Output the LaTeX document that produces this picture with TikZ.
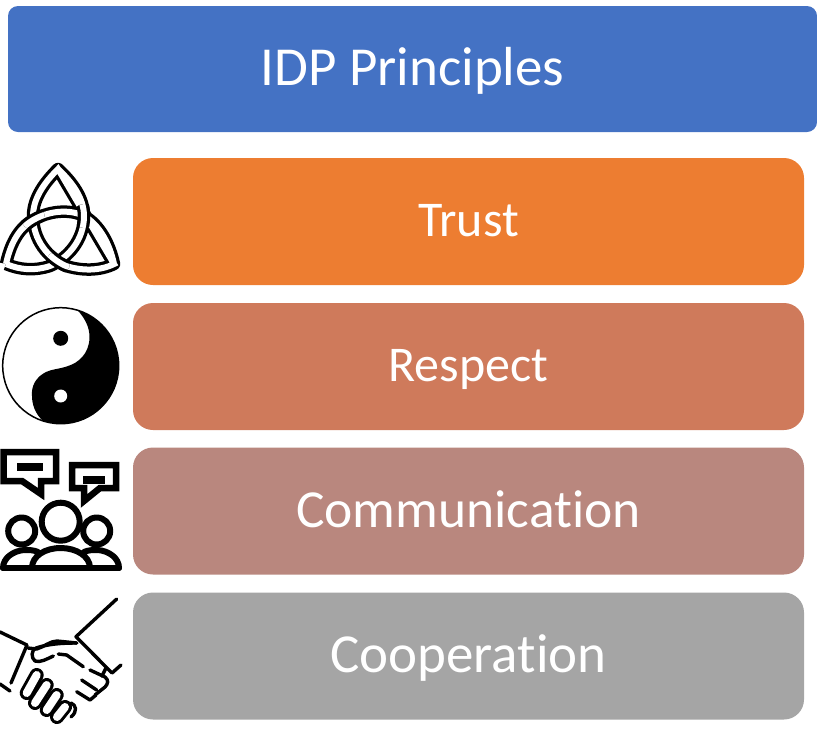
\documentclass[tikz,border=0pt]{standalone}
\usepackage{fontspec}
\setmainfont[Ligatures=NoCommon]{Carlito}
\definecolor{cblue}{HTML}{4472C4}
\definecolor{corange}{HTML}{ED7D31}
\definecolor{crespect}{HTML}{CF7A5B}
\definecolor{ccomm}{HTML}{B9877E}
\definecolor{cgrey}{HTML}{A5A5A5}
\tikzset{
  titlebox/.style={fill=cblue,rounded corners=10pt,minimum width=809pt,minimum height=126pt,inner sep=0pt,text=white,font=\fontsize{55}{60}\selectfont,text height=32pt,text depth=0pt},
  rowbox/.style={rounded corners=20pt,minimum width=671pt,minimum height=127pt,inner sep=0pt,text=white},
  rowsmall/.style={rowbox,font=\fontsize{50}{54}\selectfont,text height=29pt,text depth=0pt},
  rowbig/.style={rowbox,text height=32pt,text depth=0pt},
  ink/.style={draw=black,line width=3.4pt,line cap=round,line join=round},
  talk/.style={draw=black,line width=6.5pt,line join=miter,fill=white},
  crowd/.style={draw=black,line width=6pt,line cap=round,line join=round},
  knotout/.style={draw=black,line width=12.5pt,line join=round},
  knotin/.style={draw=white,line width=6pt,line join=miter},
  finger/.style={draw=black,line width=14pt,line cap=round},
  fingerin/.style={draw=white,line width=8pt,line cap=round}
}
\def\curveA{(58,169) .. controls (72,182) and (84,198) .. (84,216) .. controls (84,240) and (68,258) .. (50,266) .. controls (35,271) and (20,270) .. (6,264)}
\def\curveB{(6,264) .. controls (10,245) and (18,230) .. (30,222) .. controls (48,210) and (70,209) .. (84,216) .. controls (100,225) and (110,245) .. (114,264)}
\def\curveC{(114,264) .. controls (100,271) and (82,271) .. (66,266) .. controls (48,258) and (33,240) .. (33,216) .. controls (33,198) and (45,182) .. (58,169)}
\begin{document}
\begin{tikzpicture}[x=1pt,y=-1pt]
\useasboundingbox (0,0) rectangle (817,729);
\node[titlebox] (title) at (412.5,69) {IDP Principles};
\node[rowsmall,fill=corange] (trust) at (468.5,221.5) {Trust};
\node[rowsmall,fill=crespect] (respect) at (468.5,366.5) {Respect};
\node[rowbig,fill=ccomm,font=\fontsize{53.5}{60}\selectfont] (comm) at (468.5,511) {Communication};
\node[rowbig,fill=cgrey,font=\fontsize{55}{60}\selectfont] (coop) at (468.5,656) {Cooperation};

% triquetra
\path[knotout] \curveA \curveB \curveC -- cycle;
\path[knotin] \curveA \curveB \curveC -- cycle;
\begin{scope}\clip (84,216) circle (12);
\path[knotout] \curveA; \path[knotin] \curveA;
\end{scope}
\begin{scope}\clip (33,218) circle (12);
\path[knotout] \curveB; \path[knotin] \curveB;
\end{scope}
\begin{scope}\clip (58,263) circle (12);
\path[knotout] \curveC; \path[knotin] \curveC;
\end{scope}

% yin yang
\begin{scope}
\clip (60.7,365.7) circle (58);
\fill[black] (72,305) .. controls (84,315) and (90,327) .. (89.5,338) .. controls (89,354) and (78,363) .. (68,366) .. controls (60,369) and (52,369) .. (46,372) .. controls (36,377) and (31,386) .. (32,396) .. controls (32,408) and (38,418) .. (47,424) -- (125,424) -- (125,305) -- cycle;
\end{scope}
\draw[black,line width=1.5pt] (60.7,365.7) circle (58);
\fill[black] (60.7,338.3) circle (7.5);
\fill[white] (60.7,396) circle (6.5);

% communication icon
\draw[talk] (3.5,452) -- (56,452) -- (56,481) -- (41,481) -- (41,494) -- (22,481) -- (3.5,481) -- cycle;
\fill[black] (17,463) rectangle (43,471);
\draw[talk] (72,465) -- (116,465) -- (116,488) -- (100,488) -- (84,501) -- (84,488) -- (72,488) -- cycle;
\fill[black] (83,476) rectangle (105,484);
\draw[crowd] (60.7,521.7) circle (19);
\draw[crowd] (21.7,531) circle (13.5);
\draw[crowd] (96.7,531) circle (13.5);
\draw[crowd] (3,568) -- (119,568);
\draw[crowd] (3,568) .. controls (3,558) and (13,551) .. (24,550) .. controls (29,550) and (34,550) .. (38,552);
\draw[crowd] (119,568) .. controls (119,558) and (109,551) .. (98,550) .. controls (93,550) and (88,550) .. (84,552);
\draw[crowd] (32,568) .. controls (32,556) and (45,548) .. (60.7,548) .. controls (76,548) and (90,556) .. (90,568);

% handshake
\draw[ink] (116.7,599) -- (76,636.7) -- (112,673) -- (121,665);
\draw[ink] (106,668) -- (102,676);
\draw[ink] (0,632) -- (27,645) -- (11,683);
\draw[ink] (0,684) -- (10,691);
\draw[ink] (28,648) -- (36.7,649) .. controls (44,647) and (50,641) .. (57,641) -- (76.7,643);
\draw[ink] (76.7,643) .. controls (62,643) and (48,644) .. (36,648) .. controls (31,650) and (31,658) .. (35,661) .. controls (40,663) and (47,659) .. (53.3,656);
\draw[ink] (58.3,654) -- (66.7,655) -- (83.3,666.7);
\draw[ink] (90,670) -- (105,677) .. controls (109,680) and (108,684) .. (105,687) -- (95,695);
\draw[ink] (81.7,680) -- (96.7,690);
\draw[ink] (76.7,691.7) -- (90,700);
\draw[ink] (90,700) -- (96,695);
\draw[ink] (71,703) .. controls (76,705) and (78,711) .. (71,717);
\draw[finger] (65,707) -- (57,717);
\draw[fingerin] (65,707) -- (57,717);
\draw[finger] (56.7,695) -- (46.7,710);
\draw[fingerin] (56.7,695) -- (46.7,710);
\draw[finger] (46.7,685) -- (35,703);
\draw[fingerin] (46.7,685) -- (35,703);
\draw[finger] (36.7,675) -- (26.7,693);
\draw[fingerin] (36.7,675) -- (26.7,693);
\end{tikzpicture}
\end{document}
